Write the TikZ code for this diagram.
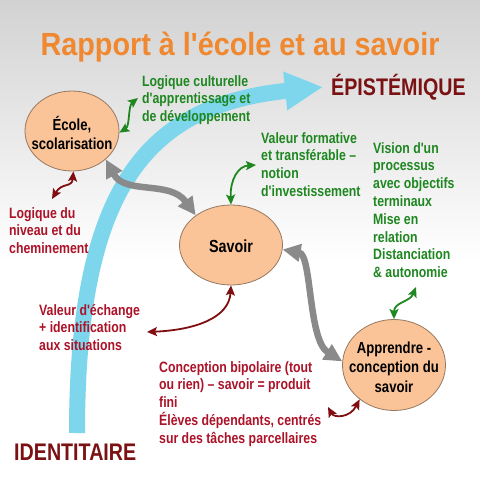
\documentclass[tikz,border=0pt]{standalone}
\usepackage{fontspec}
\setmainfont{Liberation Sans}
\newfontfamily\nb[FakeStretch=0.82]{Liberation Sans Bold}
\newfontfamily\tb[FakeStretch=0.9]{Liberation Sans Bold}
\usetikzlibrary{shapes.geometric,arrows.meta}
\definecolor{bgtop}{RGB}{210,210,210}
\definecolor{orng}{RGB}{240,136,48}
\definecolor{grn}{RGB}{30,135,32}
\definecolor{crim}{RGB}{172,18,40}
\definecolor{dred}{RGB}{122,18,20}
\definecolor{rarr}{RGB}{128,14,16}
\definecolor{cyanband}{RGB}{125,214,236}
\definecolor{gry}{RGB}{138,138,138}
\definecolor{blobfill}{RGB}{250,196,152}
\definecolor{blobline}{RGB}{150,120,96}
\tikzset{
  blob/.style={ellipse, draw=blobline, fill=blobfill, line width=0.8pt, inner sep=0pt},
  blobtext/.style={font=\nb\fontsize{16}{19.5}\selectfont, align=center, text=black, inner sep=0pt},
  gtext/.style={font=\nb\fontsize{15}{17.8}\selectfont, text=grn, align=left, anchor=base west, inner sep=0pt},
  rtext/.style={font=\nb\fontsize{15}{17.8}\selectfont, text=crim, align=left, anchor=base west, inner sep=0pt},
  bigword/.style={font=\nb\fontsize{24}{26}\selectfont, text=dred, anchor=base west, inner sep=0pt},
  grayarrow/.style={line width=6.5pt, draw=gry, arrows={Triangle[length=18pt,width=17pt]-Triangle[length=18pt,width=17pt]}},
  garrow/.style={line width=1.8pt, draw=grn, arrows={Stealth[length=10pt,width=9pt,inset=2pt]-Stealth[length=10pt,width=9pt,inset=2pt]}},
  rarrow/.style={line width=1.8pt, draw=rarr, arrows={Stealth[length=10pt,width=9pt,inset=2pt]-Stealth[length=10pt,width=9pt,inset=2pt]}},
  band/.style={line width=16pt, draw=cyanband, arrows={-Triangle[length=38pt,width=36pt]}}
}
\begin{document}
\begin{tikzpicture}[x=1pt,y=-1pt]
\useasboundingbox (0,0) rectangle (480,480);
% background
\shade[top color=bgtop, bottom color=white] (0,0) rectangle (480,260);
\fill[white] (0,260) rectangle (480,480);
% big cyan arrow
\coordinate (bandstart) at (77,433);
\coordinate (bandtip) at (323,87);
\draw[band] (bandstart) .. controls (77,183) and (150,105) .. (bandtip);
% title
\node[font=\tb\fontsize{32}{34}\selectfont, text=orng, anchor=base, inner sep=0pt] (title) at (240,55) {Rapport à l'école et au savoir};
% ellipses
\node[blob, minimum width=94pt, minimum height=80pt] (ecole) at (72,131) {};
\node[blobtext] (ecoletxt) at (72,133) {École,\\scolarisation};
\node[blob, minimum width=103pt, minimum height=80pt] (savoir) at (231,245) {};
\node[blobtext, font=\nb\fontsize{17.5}{20}\selectfont] (savoirtxt) at (231,246) {Savoir};
\node[blob, minimum width=103pt, minimum height=91pt] (apprendre) at (394,365) {};
\node[blobtext] (apprendretxt) at (394,367) {Apprendre -\\conception du\\savoir};
% texts (anchored at the baseline of their last line)
\node[gtext] (logcult) at (142,121.6) {Logique culturelle\\d'apprentissage et\\de développement};
\node[bigword] (epist) at (331,95) {ÉPISTÉMIQUE};
\node[gtext] (valform) at (261,196.4) {Valeur formative\\et transférable –\\notion\\d'investissement};
\node[gtext] (vision) at (373,277.6) {Vision d'un\\processus\\avec objectifs\\terminaux\\Mise en\\relation\\Distanciation\\\& autonomie};
\node[rtext] (logniv) at (9,253.6) {Logique du\\niveau et du\\cheminement};
\node[rtext] (valech) at (39,350.6) {Valeur d'échange\\+ identification\\aux situations};
\node[rtext] (concep) at (159,443.2) {Conception bipolaire (tout\\ou rien) – savoir = produit\\fini\\Élèves dépendants, centrés\\sur des tâches parcellaires};
\node[bigword] (ident) at (14,460) {IDENTITAIRE};
% gray double arrows
\draw[grayarrow] (ecole.-40) .. controls (125,195) and (170,180) .. (savoir.140);
\draw[grayarrow] (savoir.-5) .. controls (312,255) and (308,340) .. (apprendre.176);
% thin arrows
\coordinate (g1e) at (138,98);
\draw[garrow] (ecole.-2) .. controls (130,126) and (128,106) .. (g1e);
\coordinate (r1e) at (52,199);
\draw[rarrow] (ecole.-88) .. controls (72,188) and (62,182) .. (r1e);
\coordinate (g2e) at (256,165);
\draw[garrow] (savoir.north) .. controls (230,180) and (238,166) .. (g2e);
\coordinate (r2e) at (147,332);
\draw[rarrow] (savoir.south) .. controls (229,318) and (195,330) .. (r2e);
\coordinate (g3e) at (416,287);
\draw[garrow] (apprendre.north) .. controls (394,302) and (410,302) .. (g3e);
\coordinate (r3e) at (328,407);
\draw[rarrow] (apprendre.-135) .. controls (350,418) and (334,418) .. (r3e);
\end{tikzpicture}
\end{document}
